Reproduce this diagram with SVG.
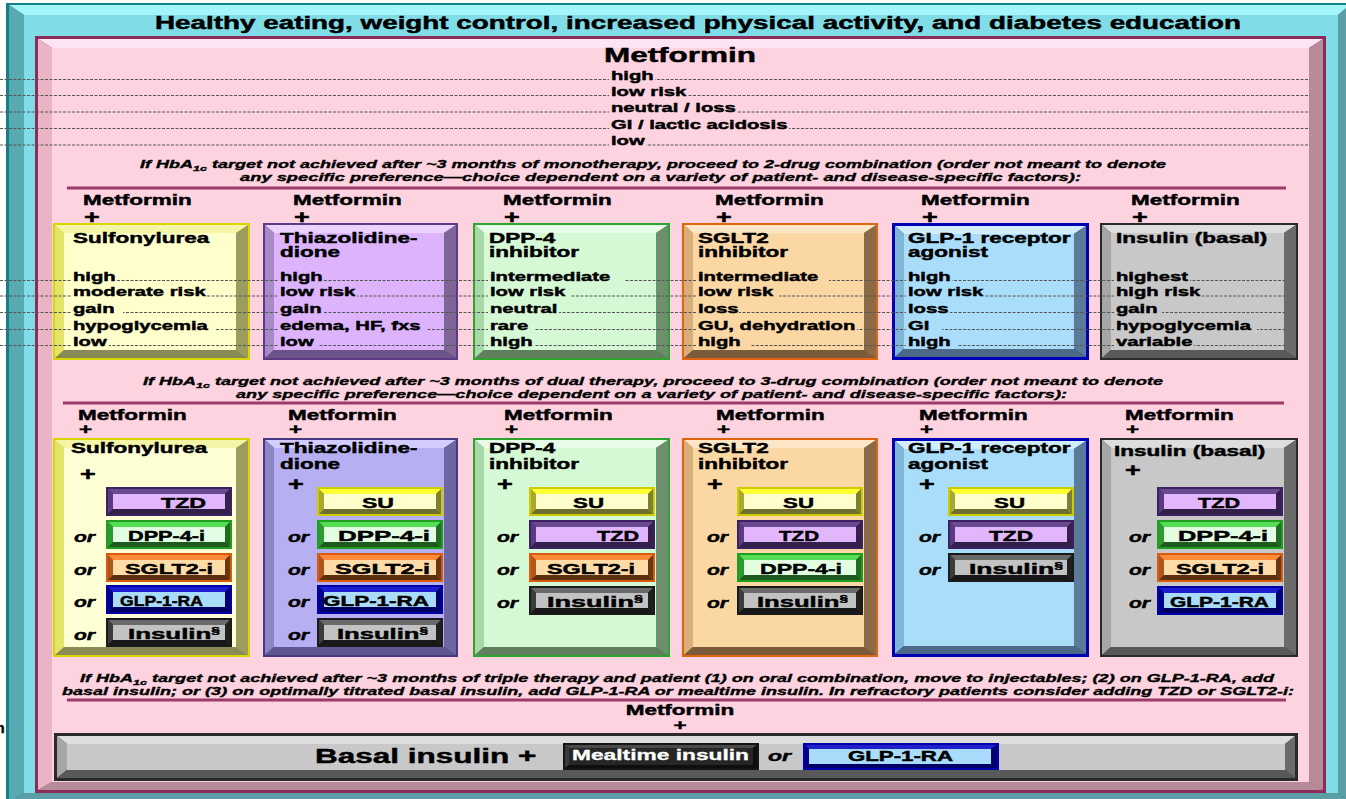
<svg xmlns="http://www.w3.org/2000/svg" xmlns:xlink="http://www.w3.org/1999/xlink" width="1346" height="799" viewBox="0 0 1346 799">
<style>
.t{font-family:"Liberation Sans",Arial,Helvetica,sans-serif;font-weight:700;fill:#000;stroke:#000;stroke-width:0.45px}
.s{transform-box:fill-box;transform-origin:0% 50%;transform:scaleX(1.5)}
.c{text-anchor:middle;transform-box:fill-box;transform-origin:50% 50%;transform:scaleX(1.5)}
.i{font-style:italic}
.v{font-size:13.5px}
.h{font-size:15px}
.p{font-size:18px}
.big{font-size:21px}
.note{font-size:11.5px;font-style:italic;stroke-width:0.35px}
.btx{font-size:15px}
.wt{fill:#fff;stroke:#fff;stroke-width:0.3px}
.dash{fill:none;stroke:#555;stroke-width:1;stroke-dasharray:3 1.5}
.sep{stroke:#9c3b67;stroke-width:3}
.su .o{fill:#d6d600}.su .tp{fill:#f5f5a8}.su .lf{fill:#e4e46a}.su .rt{fill:#9c9c5e}.su .bm{fill:#8a8a56}.su .fc{fill:#ffffcc}
.su2 .fc{fill:#ffffd6}
.tz1 .o{fill:#5e3a86}.tz1 .tp{fill:#ebd3ff}.tz1 .lf{fill:#a98ac8}.tz1 .rt{fill:#7d6598}.tz1 .bm{fill:#6c5488}.tz1 .fc{fill:#ddb3fb}
.tz2 .o{fill:#48387e}.tz2 .tp{fill:#d2ccff}.tz2 .lf{fill:#8c84c4}.tz2 .rt{fill:#6e66a0}.tz2 .bm{fill:#5e5690}.tz2 .fc{fill:#b6aff2}
.dp .o{fill:#2ea42e}.dp .tp{fill:#e8fde8}.dp .lf{fill:#a8d8a8}.dp .rt{fill:#6e8f6e}.dp .bm{fill:#5f7f5f}.dp .fc{fill:#d5f8d5}
.sg .o{fill:#e4640e}.sg .tp{fill:#fde7c6}.sg .lf{fill:#d8ae7a}.sg .rt{fill:#8b6b47}.sg .bm{fill:#7a5c3c}.sg .fc{fill:#fbd7a4}
.gl .o{fill:#0000b4}.gl .tp{fill:#d0eeff}.gl .lf{fill:#80b6d6}.gl .rt{fill:#5b7b99}.gl .bm{fill:#4c6a88}.gl .fc{fill:#a9ddfa}
.in .o{fill:#2a2a2a}.in .tp{fill:#dedede}.in .lf{fill:#a6a6a6}.in .rt{fill:#6b6b6b}.in .bm{fill:#595959}.in .fc{fill:#c8c8c8}
</style>
<defs>
  <!-- small bevelled option buttons, 126 x 29 -->
  <g id="btn-su">
    <rect width="126" height="29" fill="#cccc00"/>
    <polygon points="2,2 124,2 119,7 7,7" fill="#ffff33"/>
    <polygon points="2,2 7,7 7,22 2,27" fill="#a8a830"/>
    <polygon points="124,2 124,27 119,22 119,7" fill="#7e7e34"/>
    <polygon points="2,27 124,27 119,22 7,22" fill="#6e6e30"/>
    <rect x="7" y="7" width="112" height="15" fill="#ffffcc"/>
  </g>
  <g id="btn-tzd">
    <rect width="126" height="29" fill="#3c2060"/>
    <polygon points="2,2 124,2 119,7 7,7" fill="#6a4a90"/>
    <polygon points="2,2 7,7 7,22 2,27" fill="#5a3a80"/>
    <polygon points="124,2 124,27 119,22 119,7" fill="#38204e"/>
    <polygon points="2,27 124,27 119,22 7,22" fill="#30204a"/>
    <rect x="7" y="7" width="112" height="15" fill="#e2b6fb"/>
  </g>
  <g id="btn-dpp">
    <rect width="126" height="29" fill="#1f9f1f"/>
    <polygon points="2,2 124,2 119,7 7,7" fill="#55dd55"/>
    <polygon points="2,2 7,7 7,22 2,27" fill="#2f9a2f"/>
    <polygon points="124,2 124,27 119,22 119,7" fill="#236a23"/>
    <polygon points="2,27 124,27 119,22 7,22" fill="#1e5a1e"/>
    <rect x="7" y="7" width="112" height="15" fill="#e3fde3"/>
  </g>
  <g id="btn-sglt">
    <rect width="126" height="29" fill="#d85c0c"/>
    <polygon points="2,2 124,2 119,7 7,7" fill="#ff8a3a"/>
    <polygon points="2,2 7,7 7,22 2,27" fill="#b0561c"/>
    <polygon points="124,2 124,27 119,22 119,7" fill="#6a3810"/>
    <polygon points="2,27 124,27 119,22 7,22" fill="#5c300e"/>
    <rect x="7" y="7" width="112" height="15" fill="#ffdba7"/>
  </g>
  <g id="btn-glp">
    <rect width="126" height="29" fill="#0000a8"/>
    <polygon points="2,2 124,2 119,7 7,7" fill="#1c1cd0"/>
    <polygon points="2,2 7,7 7,22 2,27" fill="#00008c"/>
    <polygon points="124,2 124,27 119,22 119,7" fill="#000070"/>
    <polygon points="2,27 124,27 119,22 7,22" fill="#000064"/>
    <rect x="7" y="7" width="112" height="15" fill="#aadcfa"/>
  </g>
  <g id="btn-ins">
    <rect width="126" height="29" fill="#1a1a1a"/>
    <polygon points="2,2 124,2 119,7 7,7" fill="#6a6a6a"/>
    <polygon points="2,2 7,7 7,22 2,27" fill="#3c3c3c"/>
    <polygon points="124,2 124,27 119,22 119,7" fill="#202020"/>
    <polygon points="2,27 124,27 119,22 7,22" fill="#181818"/>
    <rect x="7" y="7" width="112" height="15" fill="#c2c2c2"/>
  </g>
</defs>

<rect width="1346" height="799" fill="#ffffff"/>

<!-- outer teal frame with the lifestyle banner -->
<g id="frame-outer">
  <rect x="6" y="3" width="1346" height="800" fill="#177f88"/>
  <polygon points="9,5 1350,5 1338,15 24,15" fill="#a3f5fa"/>
  <polygon points="9,5 24,15 24,793 9,803" fill="#58a9b1"/>
  <polygon points="1350,5 1350,803 1338,793 1338,15" fill="#5b9ea6"/>
  <polygon points="9,803 1350,803 1338,793 24,793" fill="#5b9ea6"/>
  <rect x="24" y="15" width="1314" height="778" fill="#80dde8"/>
  <text class="t" x="155" y="29" font-size="17.5" textLength="1086" lengthAdjust="spacingAndGlyphs">Healthy eating, weight control, increased physical activity, and diabetes education</text>
</g>
<text class="t" x="-4" y="733" font-size="14">n</text>

<!-- inner pink panel -->
<g id="frame-inner">
  <rect x="35" y="36" width="1291" height="757" fill="#8c2d59"/>
  <polygon points="38,39 1323,39 1309,48 52,48" fill="#fde4f4"/>
  <polygon points="38,39 52,48 52,782 38,790" fill="#e9b4c4"/>
  <polygon points="1323,39 1323,790 1309,782 1309,48" fill="#b68c9a"/>
  <polygon points="38,790 1323,790 1309,782 52,782" fill="#b68c9a"/>
  <rect x="52" y="48" width="1257" height="734" fill="#fdd3e0"/>
</g>

<!-- monotherapy -->
<g id="mono">
  <text class="t big c" x="680" y="62">Metformin</text>
</g>

<g id="note-1">
  <text class="t note" x="140" y="168" textLength="1026" lengthAdjust="spacingAndGlyphs">If HbA<tspan font-size="8" dy="3">1c</tspan><tspan dy="-3"> target not achieved after ~3 months of monotherapy, proceed to 2-drug combination (order not meant to denote</tspan></text>
  <text class="t note" x="240" y="181" textLength="841" lengthAdjust="spacingAndGlyphs">any specific preference—choice dependent on a variety of patient- and disease-specific factors):</text>
  <line class="sep" x1="67" y1="188" x2="1286" y2="188"/>
</g>

<!-- dual therapy headers -->
<g id="dual-heads">
  <text class="t h s" x="83" y="205">Metformin</text><text class="t p s" x="84" y="223">+</text>
  <text class="t h s" x="293" y="205">Metformin</text><text class="t p s" x="294" y="223">+</text>
  <text class="t h s" x="503" y="205">Metformin</text><text class="t p s" x="504" y="223">+</text>
  <text class="t h s" x="715" y="205">Metformin</text><text class="t p s" x="716" y="223">+</text>
  <text class="t h s" x="921" y="205">Metformin</text><text class="t p s" x="922" y="223">+</text>
  <text class="t h s" x="1131" y="205">Metformin</text><text class="t p s" x="1132" y="223">+</text>
</g>

<g id="dual-su" class="su">
  <rect class="o" x="53" y="223" width="197" height="137"/>
  <polygon class="tp" points="55,225 248,225 236,233 64,233"/>
  <polygon class="lf" points="55,225 64,233 64,350 55,358"/>
  <polygon class="rt" points="248,225 248,358 236,350 236,233"/>
  <polygon class="bm" points="55,358 248,358 236,350 64,350"/>
  <rect class="fc" x="64" y="233" width="172" height="117"/>
  <text class="t h s" x="73" y="243">Sulfonylurea</text>
</g>
<g id="dual-tzd" class="tz1">
  <rect class="o" x="263" y="223" width="195" height="137"/>
  <polygon class="tp" points="265,225 456,225 444,233 274,233"/>
  <polygon class="lf" points="265,225 274,233 274,350 265,358"/>
  <polygon class="rt" points="456,225 456,358 444,350 444,233"/>
  <polygon class="bm" points="265,358 456,358 444,350 274,350"/>
  <rect class="fc" x="274" y="233" width="170" height="117"/>
  <text class="t h s" x="280" y="243">Thiazolidine-</text>
  <text class="t h s" x="280" y="257">dione</text>
</g>
<g id="dual-dpp" class="dp">
  <rect class="o" x="473" y="223" width="197" height="137"/>
  <polygon class="tp" points="475,225 668,225 656,233 484,233"/>
  <polygon class="lf" points="475,225 484,233 484,350 475,358"/>
  <polygon class="rt" points="668,225 668,358 656,350 656,233"/>
  <polygon class="bm" points="475,358 668,358 656,350 484,350"/>
  <rect class="fc" x="484" y="233" width="172" height="117"/>
  <text class="t h s" x="489" y="243">DPP-4</text>
  <text class="t h s" x="489" y="257">inhibitor</text>
</g>
<g id="dual-sglt" class="sg">
  <rect class="o" x="682" y="223" width="196" height="137"/>
  <polygon class="tp" points="684,225 876,225 864,233 693,233"/>
  <polygon class="lf" points="684,225 693,233 693,350 684,358"/>
  <polygon class="rt" points="876,225 876,358 864,350 864,233"/>
  <polygon class="bm" points="684,358 876,358 864,350 693,350"/>
  <rect class="fc" x="693" y="233" width="171" height="117"/>
  <text class="t h s" x="698" y="243">SGLT2</text>
  <text class="t h s" x="698" y="257">inhibitor</text>
</g>
<g id="dual-glp" class="gl">
  <rect class="o" x="892" y="223" width="197" height="137"/>
  <polygon class="tp" points="895,226 1086,226 1074,234 904,234"/>
  <polygon class="lf" points="895,226 904,234 904,349 895,357"/>
  <polygon class="rt" points="1086,226 1086,357 1074,349 1074,234"/>
  <polygon class="bm" points="895,357 1086,357 1074,349 904,349"/>
  <rect class="fc" x="904" y="234" width="170" height="115"/>
  <text class="t h s" x="908" y="243">GLP-1 receptor</text>
  <text class="t h s" x="908" y="257">agonist</text>
</g>
<g id="dual-ins" class="in">
  <rect class="o" x="1100" y="223" width="198" height="137"/>
  <polygon class="tp" points="1102,225 1296,225 1284,233 1111,233"/>
  <polygon class="lf" points="1102,225 1111,233 1111,350 1102,358"/>
  <polygon class="rt" points="1296,225 1296,358 1284,350 1284,233"/>
  <polygon class="bm" points="1102,358 1296,358 1284,350 1111,350"/>
  <rect class="fc" x="1111" y="233" width="173" height="117"/>
  <text class="t h s" x="1116" y="243">Insulin (basal)</text>
</g>

<!-- dotted guide lines linking the rating rows -->
<g id="guide-lines">
  <line class="dash" x1="0" y1="79.5" x2="1310" y2="79.5"/>
  <line class="dash" x1="0" y1="95.5" x2="1310" y2="95.5"/>
  <line class="dash" x1="0" y1="112" x2="1310" y2="112"/>
  <line class="dash" x1="0" y1="128.5" x2="1310" y2="128.5"/>
  <line class="dash" x1="0" y1="145" x2="1310" y2="145"/>
  <line class="dash" x1="0" y1="280.5" x2="1285" y2="280.5"/>
  <line class="dash" x1="0" y1="296" x2="1285" y2="296"/>
  <line class="dash" x1="0" y1="312.5" x2="1285" y2="312.5"/>
  <line class="dash" x1="0" y1="329.5" x2="1285" y2="329.5"/>
  <line class="dash" x1="0" y1="345.5" x2="1285" y2="345.5"/>
</g>

<!-- rating values (efficacy, hypo risk, weight, side effects, costs) -->
<g id="mono-values">
  <g fill="#fdd3e0">
    <rect x="609" y="69" width="46" height="14"/>
    <rect x="609" y="85" width="79" height="14"/>
    <rect x="609" y="101.5" width="129" height="14"/>
    <rect x="609" y="118" width="180" height="14"/>
    <rect x="609" y="134.5" width="37" height="14"/>
  </g>
  <text class="t v s" x="611" y="80">high</text>
  <text class="t v s" x="611" y="96">low risk</text>
  <text class="t v s" x="611" y="112.5">neutral / loss</text>
  <text class="t v s" x="611" y="129">GI / lactic acidosis</text>
  <text class="t v s" x="611" y="145.5">low</text>
</g>
<g id="dual-values">
  <g fill="#ffffcc">
    <rect x="71" y="270" width="46" height="14"/>
    <rect x="71" y="285.5" width="136" height="14"/>
    <rect x="71" y="302" width="52" height="14"/>
    <rect x="71" y="319" width="145" height="14"/>
    <rect x="71" y="335" width="38" height="14"/>
  </g>
  <text class="t v s" x="73" y="281">high</text>
  <text class="t v s" x="73" y="296.5">moderate risk</text>
  <text class="t v s" x="73" y="313">gain</text>
  <text class="t v s" x="73" y="330">hypoglycemia</text>
  <text class="t v s" x="73" y="346">low</text>
  <g fill="#ddb3fb">
    <rect x="278" y="270" width="46" height="14"/>
    <rect x="278" y="285.5" width="79" height="14"/>
    <rect x="278" y="302" width="45" height="14"/>
    <rect x="278" y="319" width="148" height="14"/>
    <rect x="278" y="335" width="40" height="14"/>
  </g>
  <text class="t v s" x="280" y="281">high</text>
  <text class="t v s" x="280" y="296.5">low risk</text>
  <text class="t v s" x="280" y="313">gain</text>
  <text class="t v s" x="280" y="330">edema, HF, fxs</text>
  <text class="t v s" x="280" y="346">low</text>
  <g fill="#d5f8d5">
    <rect x="488" y="270" width="136" height="14"/>
    <rect x="488" y="285.5" width="83" height="14"/>
    <rect x="488" y="302" width="71" height="14"/>
    <rect x="488" y="319" width="46" height="14"/>
    <rect x="488" y="335" width="46" height="14"/>
  </g>
  <text class="t v s" x="490" y="281">intermediate</text>
  <text class="t v s" x="490" y="296.5">low risk</text>
  <text class="t v s" x="490" y="313">neutral</text>
  <text class="t v s" x="490" y="330">rare</text>
  <text class="t v s" x="490" y="346">high</text>
  <g fill="#fbd7a4">
    <rect x="696" y="270" width="133" height="14"/>
    <rect x="696" y="285.5" width="83" height="14"/>
    <rect x="696" y="302" width="43" height="14"/>
    <rect x="696" y="319" width="161" height="14"/>
    <rect x="696" y="335" width="55" height="14"/>
  </g>
  <text class="t v s" x="698" y="281">intermediate</text>
  <text class="t v s" x="698" y="296.5">low risk</text>
  <text class="t v s" x="698" y="313">loss</text>
  <text class="t v s" x="698" y="330">GU, dehydration</text>
  <text class="t v s" x="698" y="346">high</text>
  <g fill="#a9ddfa">
    <rect x="906" y="270" width="46" height="14"/>
    <rect x="906" y="285.5" width="78" height="14"/>
    <rect x="906" y="302" width="44" height="14"/>
    <rect x="906" y="319" width="36" height="14"/>
    <rect x="906" y="335" width="52" height="14"/>
  </g>
  <text class="t v s" x="908" y="281">high</text>
  <text class="t v s" x="908" y="296.5">low risk</text>
  <text class="t v s" x="908" y="313">loss</text>
  <text class="t v s" x="908" y="330">GI</text>
  <text class="t v s" x="908" y="346">high</text>
  <g fill="#c8c8c8">
    <rect x="1114" y="270" width="76" height="14"/>
    <rect x="1114" y="285.5" width="88" height="14"/>
    <rect x="1114" y="302" width="48" height="14"/>
    <rect x="1114" y="319" width="143" height="14"/>
    <rect x="1114" y="335" width="80" height="14"/>
  </g>
  <text class="t v s" x="1116" y="281">highest</text>
  <text class="t v s" x="1116" y="296.5">high risk</text>
  <text class="t v s" x="1116" y="313">gain</text>
  <text class="t v s" x="1116" y="330">hypoglycemia</text>
  <text class="t v s" x="1116" y="346">variable</text>
</g>

<g id="note-2">
  <text class="t note" x="143" y="385" textLength="1020" lengthAdjust="spacingAndGlyphs">If HbA<tspan font-size="8" dy="3">1c</tspan><tspan dy="-3"> target not achieved after ~3 months of dual therapy, proceed to 3-drug combination (order not meant to denote</tspan></text>
  <text class="t note" x="236" y="398" textLength="831" lengthAdjust="spacingAndGlyphs">any specific preference—choice dependent on a variety of patient- and disease-specific factors):</text>
  <line class="sep" x1="63" y1="403" x2="1284" y2="403"/>
</g>

<!-- triple therapy -->
<g id="triple-heads">
  <text class="t h s" x="78" y="420">Metformin</text><text class="t h s" x="79" y="434">+</text>
  <text class="t h s" x="288" y="420">Metformin</text><text class="t h s" x="289" y="434">+</text>
  <text class="t h s" x="504" y="420">Metformin</text><text class="t h s" x="505" y="434">+</text>
  <text class="t h s" x="716" y="420">Metformin</text><text class="t h s" x="717" y="434">+</text>
  <text class="t h s" x="919" y="420">Metformin</text><text class="t h s" x="920" y="434">+</text>
  <text class="t h s" x="1125" y="420">Metformin</text><text class="t h s" x="1126" y="434">+</text>
</g>

<g id="triple-su" class="su su2">
  <rect class="o" x="53" y="438" width="197" height="219"/>
  <polygon class="tp" points="55,440 248,440 236,448 64,448"/>
  <polygon class="lf" points="55,440 64,448 64,647 55,655"/>
  <polygon class="rt" points="248,440 248,655 236,647 236,448"/>
  <polygon class="bm" points="55,655 248,655 236,647 64,647"/>
  <rect class="fc" x="64" y="448" width="172" height="199"/>
  <text class="t h s" x="71" y="453">Sulfonylurea</text>
  <text class="t p s" x="80" y="480">+</text>
  <use href="#btn-tzd" x="106" y="487"/>
  <use href="#btn-dpp" x="106" y="520"/>
  <use href="#btn-sglt" x="106" y="553"/>
  <use href="#btn-glp" x="106" y="585"/>
  <use href="#btn-ins" x="106" y="618"/>
  <text class="t btx" x="161" y="508" textLength="45" lengthAdjust="spacingAndGlyphs">TZD</text>
  <text class="t btx" x="128" y="541" textLength="77" lengthAdjust="spacingAndGlyphs">DPP-4-i</text>
  <text class="t btx" x="125" y="574" textLength="88" lengthAdjust="spacingAndGlyphs">SGLT2-i</text>
  <text class="t btx" x="120" y="606" textLength="83" lengthAdjust="spacingAndGlyphs">GLP-1-RA</text>
  <text class="t btx" x="128" y="639" textLength="92" lengthAdjust="spacingAndGlyphs">Insulin<tspan font-size="9" dy="-6">§</tspan></text>
  <text class="t h i" x="74" y="542" textLength="21" lengthAdjust="spacingAndGlyphs">or</text>
  <text class="t h i" x="74" y="575" textLength="21" lengthAdjust="spacingAndGlyphs">or</text>
  <text class="t h i" x="74" y="607" textLength="21" lengthAdjust="spacingAndGlyphs">or</text>
  <text class="t h i" x="74" y="640" textLength="21" lengthAdjust="spacingAndGlyphs">or</text>
</g>

<g id="triple-tzd" class="tz2">
  <rect class="o" x="263" y="438" width="195" height="219"/>
  <polygon class="tp" points="265,440 456,440 444,448 274,448"/>
  <polygon class="lf" points="265,440 274,448 274,647 265,655"/>
  <polygon class="rt" points="456,440 456,655 444,647 444,448"/>
  <polygon class="bm" points="265,655 456,655 444,647 274,647"/>
  <rect class="fc" x="274" y="448" width="170" height="199"/>
  <text class="t h s" x="280" y="453">Thiazolidine-</text>
  <text class="t h s" x="280" y="469">dione</text>
  <text class="t p s" x="288" y="490">+</text>
  <use href="#btn-su" x="317" y="487"/>
  <use href="#btn-dpp" x="317" y="520"/>
  <use href="#btn-sglt" x="317" y="553"/>
  <use href="#btn-glp" x="317" y="585"/>
  <use href="#btn-ins" x="317" y="618"/>
  <text class="t btx" x="362" y="508" textLength="32" lengthAdjust="spacingAndGlyphs">SU</text>
  <text class="t btx" x="338" y="541" textLength="92" lengthAdjust="spacingAndGlyphs">DPP-4-i</text>
  <text class="t btx" x="335" y="574" textLength="95" lengthAdjust="spacingAndGlyphs">SGLT2-i</text>
  <text class="t btx" x="323" y="606" textLength="106" lengthAdjust="spacingAndGlyphs">GLP-1-RA</text>
  <text class="t btx" x="337" y="639" textLength="91" lengthAdjust="spacingAndGlyphs">Insulin<tspan font-size="9" dy="-6">§</tspan></text>
  <text class="t h i" x="288" y="542" textLength="21" lengthAdjust="spacingAndGlyphs">or</text>
  <text class="t h i" x="288" y="575" textLength="21" lengthAdjust="spacingAndGlyphs">or</text>
  <text class="t h i" x="288" y="607" textLength="21" lengthAdjust="spacingAndGlyphs">or</text>
  <text class="t h i" x="288" y="640" textLength="21" lengthAdjust="spacingAndGlyphs">or</text>
</g>

<g id="triple-dpp" class="dp">
  <rect class="o" x="473" y="438" width="197" height="219"/>
  <polygon class="tp" points="475,440 668,440 656,448 484,448"/>
  <polygon class="lf" points="475,440 484,448 484,647 475,655"/>
  <polygon class="rt" points="668,440 668,655 656,647 656,448"/>
  <polygon class="bm" points="475,655 668,655 656,647 484,647"/>
  <rect class="fc" x="484" y="448" width="172" height="199"/>
  <text class="t h s" x="489" y="453">DPP-4</text>
  <text class="t h s" x="489" y="469">inhibitor</text>
  <text class="t p s" x="497" y="490">+</text>
  <use href="#btn-su" x="529" y="487"/>
  <use href="#btn-tzd" x="529" y="520"/>
  <use href="#btn-sglt" x="529" y="553"/>
  <use href="#btn-ins" x="529" y="586"/>
  <text class="t btx" x="573" y="508" textLength="31" lengthAdjust="spacingAndGlyphs">SU</text>
  <text class="t btx" x="597" y="541" textLength="42" lengthAdjust="spacingAndGlyphs">TZD</text>
  <text class="t btx" x="547" y="574" textLength="88" lengthAdjust="spacingAndGlyphs">SGLT2-i</text>
  <text class="t btx" x="547" y="607" textLength="96" lengthAdjust="spacingAndGlyphs">Insulin<tspan font-size="9" dy="-6">§</tspan></text>
  <text class="t h i" x="497" y="542" textLength="21" lengthAdjust="spacingAndGlyphs">or</text>
  <text class="t h i" x="497" y="575" textLength="21" lengthAdjust="spacingAndGlyphs">or</text>
  <text class="t h i" x="497" y="608" textLength="21" lengthAdjust="spacingAndGlyphs">or</text>
</g>

<g id="triple-sglt" class="sg">
  <rect class="o" x="682" y="438" width="196" height="219"/>
  <polygon class="tp" points="684,440 876,440 864,448 693,448"/>
  <polygon class="lf" points="684,440 693,448 693,647 684,655"/>
  <polygon class="rt" points="876,440 876,655 864,647 864,448"/>
  <polygon class="bm" points="684,655 876,655 864,647 693,647"/>
  <rect class="fc" x="693" y="448" width="171" height="199"/>
  <text class="t h s" x="698" y="453">SGLT2</text>
  <text class="t h s" x="698" y="469">inhibitor</text>
  <text class="t p s" x="707" y="490">+</text>
  <use href="#btn-su" x="737" y="487"/>
  <use href="#btn-tzd" x="737" y="520"/>
  <use href="#btn-dpp" x="737" y="553"/>
  <use href="#btn-ins" x="737" y="586"/>
  <text class="t btx" x="783" y="508" textLength="31" lengthAdjust="spacingAndGlyphs">SU</text>
  <text class="t btx" x="779" y="541" textLength="40" lengthAdjust="spacingAndGlyphs">TZD</text>
  <text class="t btx" x="760" y="574" textLength="82" lengthAdjust="spacingAndGlyphs">DPP-4-i</text>
  <text class="t btx" x="757" y="607" textLength="91" lengthAdjust="spacingAndGlyphs">Insulin<tspan font-size="9" dy="-6">§</tspan></text>
  <text class="t h i" x="707" y="542" textLength="21" lengthAdjust="spacingAndGlyphs">or</text>
  <text class="t h i" x="707" y="575" textLength="21" lengthAdjust="spacingAndGlyphs">or</text>
  <text class="t h i" x="707" y="608" textLength="21" lengthAdjust="spacingAndGlyphs">or</text>
</g>

<g id="triple-glp" class="gl">
  <rect class="o" x="892" y="438" width="197" height="219"/>
  <polygon class="tp" points="895,441 1086,441 1074,449 904,449"/>
  <polygon class="lf" points="895,441 904,449 904,646 895,654"/>
  <polygon class="rt" points="1086,441 1086,654 1074,646 1074,449"/>
  <polygon class="bm" points="895,654 1086,654 1074,646 904,646"/>
  <rect class="fc" x="904" y="449" width="170" height="197"/>
  <text class="t h s" x="908" y="453">GLP-1 receptor</text>
  <text class="t h s" x="908" y="469">agonist</text>
  <text class="t p s" x="919" y="490">+</text>
  <use href="#btn-su" x="948" y="487"/>
  <use href="#btn-tzd" x="948" y="520"/>
  <use href="#btn-ins" x="948" y="553"/>
  <text class="t btx" x="994" y="508" textLength="31" lengthAdjust="spacingAndGlyphs">SU</text>
  <text class="t btx" x="989" y="541" textLength="44" lengthAdjust="spacingAndGlyphs">TZD</text>
  <text class="t btx" x="969" y="574" textLength="94" lengthAdjust="spacingAndGlyphs">Insulin<tspan font-size="9" dy="-6">§</tspan></text>
  <text class="t h i" x="919" y="542" textLength="21" lengthAdjust="spacingAndGlyphs">or</text>
  <text class="t h i" x="919" y="575" textLength="21" lengthAdjust="spacingAndGlyphs">or</text>
</g>

<g id="triple-ins" class="in">
  <rect class="o" x="1100" y="438" width="198" height="219"/>
  <polygon class="tp" points="1102,440 1296,440 1284,448 1111,448"/>
  <polygon class="lf" points="1102,440 1111,448 1111,647 1102,655"/>
  <polygon class="rt" points="1296,440 1296,655 1284,647 1284,448"/>
  <polygon class="bm" points="1102,655 1296,655 1284,647 1111,647"/>
  <rect class="fc" x="1111" y="448" width="173" height="199"/>
  <text class="t h s" x="1114" y="456">Insulin (basal)</text>
  <text class="t p s" x="1125" y="476">+</text>
  <use href="#btn-tzd" x="1157" y="487"/>
  <use href="#btn-dpp" x="1157" y="520"/>
  <use href="#btn-sglt" x="1157" y="553"/>
  <use href="#btn-glp" x="1157" y="586"/>
  <text class="t btx" x="1198" y="508" textLength="42" lengthAdjust="spacingAndGlyphs">TZD</text>
  <text class="t btx" x="1178" y="541" textLength="90" lengthAdjust="spacingAndGlyphs">DPP-4-i</text>
  <text class="t btx" x="1176" y="574" textLength="88" lengthAdjust="spacingAndGlyphs">SGLT2-i</text>
  <text class="t btx" x="1170" y="607" textLength="99" lengthAdjust="spacingAndGlyphs">GLP-1-RA</text>
  <text class="t h i" x="1129" y="542" textLength="21" lengthAdjust="spacingAndGlyphs">or</text>
  <text class="t h i" x="1129" y="575" textLength="21" lengthAdjust="spacingAndGlyphs">or</text>
  <text class="t h i" x="1129" y="608" textLength="21" lengthAdjust="spacingAndGlyphs">or</text>
</g>

<g id="note-3">
  <text class="t note" x="80" y="682" textLength="1194" lengthAdjust="spacingAndGlyphs">If HbA<tspan font-size="8" dy="3">1c</tspan><tspan dy="-3"> target not achieved after ~3 months of triple therapy and patient (1) on oral combination, move to injectables; (2) on GLP-1-RA, add</tspan></text>
  <text class="t note" x="62" y="695" textLength="1232" lengthAdjust="spacingAndGlyphs">basal insulin; or (3) on optimally titrated basal insulin, add GLP-1-RA or mealtime insulin. In refractory patients consider adding TZD or SGLT2-i:</text>
  <line class="sep" x1="67" y1="700" x2="1286" y2="700"/>
</g>

<!-- injectable therapy -->
<g id="injectables">
  <text class="t h c" x="680" y="715">Metformin</text>
  <text class="t h c" x="680" y="730">+</text>
  <g class="in">
    <rect class="o" x="54" y="733" width="1244" height="48"/>
    <polygon class="tp" points="57,736 1295,736 1285,744 67,744"/>
    <polygon class="lf" points="57,736 67,744 67,770 57,778"/>
    <polygon class="rt" points="1295,736 1295,778 1285,770 1285,744"/>
    <polygon class="bm" points="57,778 1295,778 1285,770 67,770"/>
    <rect class="fc" x="67" y="744" width="1218" height="26"/>
  </g>
  <text class="t big s" x="315" y="763">Basal insulin +</text>
  <g id="mealtime">
    <rect x="563" y="743" width="196" height="27" fill="#151515"/>
    <polygon points="565,745 757,745 753,748 569,748" fill="#4a4a4a"/>
    <polygon points="565,745 569,748 569,765 565,768" fill="#3a3a3a"/>
    <polygon points="757,745 757,768 753,765 753,748" fill="#0e0e0e"/>
    <polygon points="565,768 757,768 753,765 569,765" fill="#0e0e0e"/>
    <rect x="569" y="748" width="184" height="17" fill="#262626"/>
    <text class="t wt" x="572" y="760" font-size="15" textLength="177" lengthAdjust="spacingAndGlyphs">Mealtime insulin</text>
  </g>
  <text class="t h i" x="768" y="761" textLength="23" lengthAdjust="spacingAndGlyphs">or</text>
  <g id="glp-final">
    <rect x="803" y="743" width="196" height="27" fill="#0000a8"/>
    <polygon points="805,745 997,745 991,749 809,749" fill="#2020cc"/>
    <polygon points="805,745 809,749 809,764 805,768" fill="#00008a"/>
    <polygon points="997,745 997,768 991,764 991,749" fill="#000070"/>
    <polygon points="805,768 997,768 991,764 809,764" fill="#000068"/>
    <rect x="809" y="749" width="182" height="15" fill="#a9dcfa"/>
    <text class="t btx" x="848" y="761" textLength="105" lengthAdjust="spacingAndGlyphs">GLP-1-RA</text>
  </g>
</g>
</svg>
